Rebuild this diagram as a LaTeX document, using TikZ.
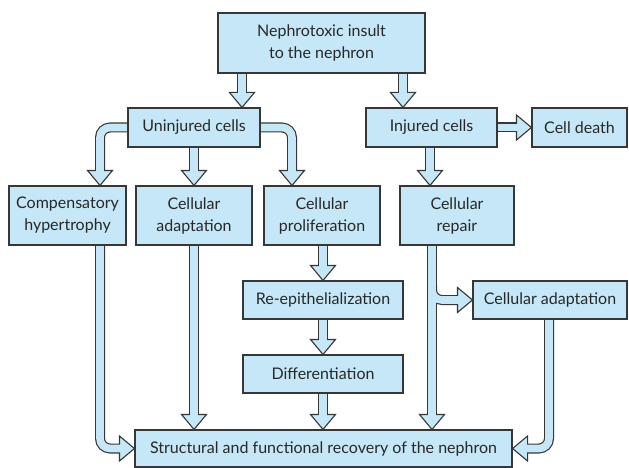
\documentclass[tikz,border=0pt]{standalone}
\usepackage{fontspec}
\setmainfont{Lato}
\usetikzlibrary{backgrounds}

\definecolor{cellblue}{RGB}{198,231,247}
\definecolor{edgegray}{RGB}{55,55,55}
\definecolor{inkgray}{RGB}{40,40,40}

\tikzset{
  box/.style={draw=edgegray, fill=cellblue, line width=1.1pt, inner sep=0pt,
    align=center, text=inkgray, font=\fontsize{16}{22}\selectfont},
  shaftout/.style={draw=edgegray, line width=10pt, rounded corners=10pt},
  shaftin/.style={draw=cellblue, line width=7.6pt, rounded corners=10pt},
  tiphead/.style={fill=cellblue, draw=edgegray, line width=1.1pt, line join=miter},
}

% arrow head: #1 = tip point, #2 = direction angle
\newcommand\blockhead[2]{%
  \filldraw[tiphead, shift={(#1)}, rotate=#2] (0,0) -- (-15,-12.5) -- (-15,12.5) -- cycle;}

% the shafts of all block arrows, drawn with the style given
\newcommand\allshafts[1]{%
  \draw[#1] (242,0 |- top.south) -- (242,95);
  \draw[#1] (403,0 |- top.south) -- (403,95);
  \draw[#1] (uninj.west) -- (100,127.5) -- (100,173);
  \draw[#1] (uninj.south) -- (194,173);
  \draw[#1] (uninj.east) -- (292,127.5) -- (292,173);
  \draw[#1] (inj.east) -- (519,127.5);
  \draw[#1] (430,0 |- inj.south) -- (430,173);
  \draw[#1] (100,0 |- comp.south) -- (100,448.5) -- (122,448.5);
  \draw[#1] (adapt.south) -- (194,417);
  \draw[#1] (323,0 |- prolif.south) -- (323,268);
  \draw[#1] (reepi.south) -- (323,342);
  \draw[#1] (diff.south) -- (323,417);
  \draw[#1] (432,0 |- repair.south) -- (432,417);
  \draw[#1] (432,285) -- (432,300) -- (460,300);
  \draw[#1] (549,0 |- adapt2.south) -- (549,448.5) -- (525,448.5);
}

\begin{document}
\begin{tikzpicture}[x=1pt, y=-1pt]
\useasboundingbox (0,0) rectangle (629,468);

% boxes
\node[box, minimum width=207pt, minimum height=60pt] (top) at (321.5,43)
  {Nephrotoxic insult\\to the nephron};
\node[box, minimum width=132pt, minimum height=39pt] (uninj) at (194,127.5) {Uninjured cells};
\node[box, minimum width=131pt, minimum height=39pt] (inj) at (431.5,127.5) {Injured cells};
\node[box, minimum width=95pt, minimum height=39pt] (death) at (579.5,127.5) {Cell death};
\node[box, minimum width=117pt, minimum height=59pt] (comp) at (67.5,215.5)
  {Compensatory\\hypertrophy};
\node[box, minimum width=116pt, minimum height=59pt] (adapt) at (194,215.5)
  {Cellular\\adaptation};
\node[box, minimum width=116pt, minimum height=59pt] (prolif) at (322,215.5)
  {Cellular\\proliferation};
\node[box, minimum width=114pt, minimum height=59pt] (repair) at (457,215.5)
  {Cellular\\repair};
\node[box, minimum width=160pt, minimum height=38pt] (reepi) at (323,300) {Re-epithelialization};
\node[box, minimum width=154pt, minimum height=38pt] (adapt2) at (550,300) {Cellular adaptation};
\node[box, minimum width=160pt, minimum height=38pt] (diff) at (323,374) {Differentiation};
\node[box, minimum width=377pt, minimum height=37pt] (recov) at (323.5,448.5)
  {Structural and functional recovery of the nephron};

% block arrows behind the boxes
\begin{scope}[on background layer]
  \fill[white] (0,0) rectangle (629,468);
  \allshafts{shaftout}
  \blockhead{242,0 |- uninj.north}{-90}
  \blockhead{403,0 |- inj.north}{-90}
  \blockhead{100,0 |- comp.north}{-90}
  \blockhead{adapt.north}{-90}
  \blockhead{292,0 |- prolif.north}{-90}
  \blockhead{death.west}{0}
  \blockhead{430,0 |- repair.north}{-90}
  \blockhead{recov.west}{0}
  \blockhead{194,0 |- recov.north}{-90}
  \blockhead{reepi.north}{-90}
  \blockhead{diff.north}{-90}
  \blockhead{323,0 |- recov.north}{-90}
  \blockhead{432,0 |- recov.north}{-90}
  \blockhead{adapt2.west}{0}
  \blockhead{recov.east}{180}
  \allshafts{shaftin}
\end{scope}
\end{tikzpicture}
\end{document}
